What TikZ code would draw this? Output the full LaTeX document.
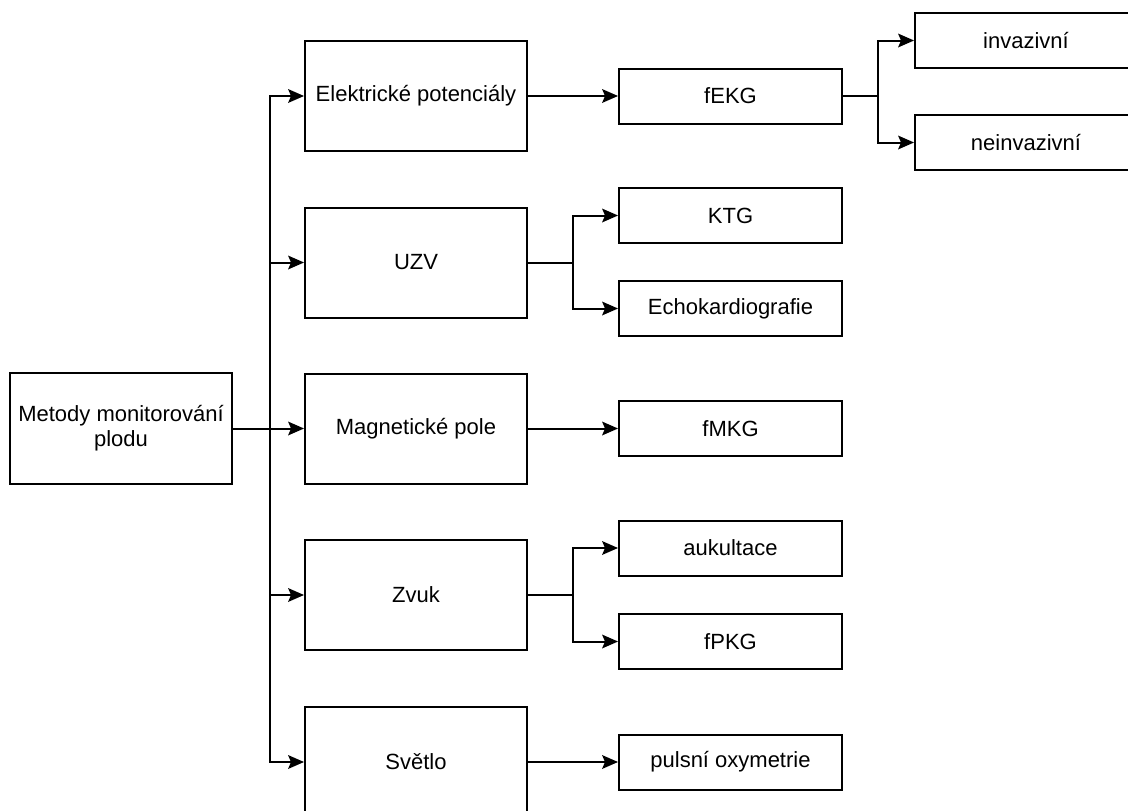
\documentclass[tikz,border=0pt]{standalone}
\usepackage{fontspec}
\setmainfont{Liberation Sans}
\usetikzlibrary{arrows.meta}

\begin{document}
\begin{tikzpicture}[x=1pt,y=-1pt,
  box/.style={draw=black, line width=2pt, fill=white, inner sep=0pt,
    font=\fontsize{22}{25}\selectfont, align=center},
  bigbox/.style={box, minimum width=222pt, minimum height=110pt},
  smallbox/.style={box, minimum width=223pt, minimum height=55pt},
  tip/.tip={Stealth[length=16pt,width=14pt,inset=3pt,line width=0pt]},
  arr/.style={line width=2pt, -tip}]
\useasboundingbox (0,0) rectangle (1128,811);
\clip (0,0) rectangle (1128,811);

% branch columns
\coordinate (tx) at (270,0);
\coordinate (bx) at (573,0);
\coordinate (cx) at (878,0);

% root
\node[bigbox, minimum height=111pt] (root) at (121,428.5) {Metody monitorování\\plodu};

% first level
\node[bigbox] (elek) at (416,96)    {Elektrické potenciály};
\node[bigbox] (uzv)  at (416,262.5) {UZV};
\node[bigbox] (mag)  at (416,428.5) {Magnetické pole};
\node[bigbox] (zvuk) at (416,595)   {Zvuk};
\node[bigbox] (svet) at (416,762)   {Světlo};

% second level
\node[smallbox] (fekg) at (730.5,96)    {fEKG};
\node[smallbox] (ktg)  at (730.5,215.5) {KTG};
\node[smallbox] (echo) at (730.5,308.5) {Echokardiografie};
\node[smallbox] (fmkg) at (730.5,428.5) {fMKG};
\node[smallbox] (auk)  at (730.5,548)   {aukultace};
\node[smallbox] (fpkg) at (730.5,641.5) {fPKG};
\node[smallbox] (puls) at (730.5,762)   {pulsní oxymetrie};

% third level
\node[smallbox, minimum width=222pt] (inv)   at (1026,40.5)  {invazivní};
\node[smallbox, minimum width=222pt] (neinv) at (1026,142.5) {neinvazivní};

% root to first level
\foreach \t in {elek,uzv,mag,zvuk,svet}
  \draw[arr] (root.east) -- (root.east -| tx) |- (\t.west);

% first level to second level
\draw[arr] (elek.east) -- (fekg.west);
\draw[arr] (uzv.east) -- (uzv.east -| bx) |- (ktg.west);
\draw[arr] (uzv.east) -- (uzv.east -| bx) |- (echo.west);
\draw[arr] (mag.east) -- (fmkg.west);
\draw[arr] (zvuk.east) -- (zvuk.east -| bx) |- (auk.west);
\draw[arr] (zvuk.east) -- (zvuk.east -| bx) |- (fpkg.west);
\draw[arr] (svet.east) -- (puls.west);

% second level to third level
\draw[arr] (fekg.east) -- (fekg.east -| cx) |- (inv.west);
\draw[arr] (fekg.east) -- (fekg.east -| cx) |- (neinv.west);
\end{tikzpicture}
\end{document}
